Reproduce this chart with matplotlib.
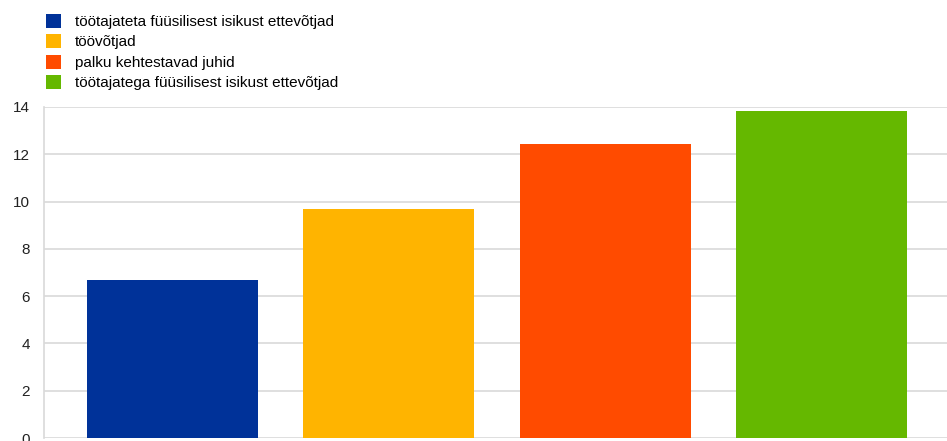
"""Bar chart: four employer / manager groups."""

import matplotlib
matplotlib.use('Agg')
import matplotlib.pyplot as plt

categories = [
    'töötajateta füüsilisest isikust ettevõtjad',
    'töövõtjad',
    'palku kehtestavad juhid',
    'töötajatega füüsilisest isikust ettevõtjad',
]
values = [6.68, 9.7, 12.45, 13.83]
colors = ['#003299', '#FFB400', '#FF4B00', '#65B800']
y_ticks = [0, 2, 4, 6, 8, 10, 12, 14]

plt.rcParams['font.family'] = ['Liberation Sans', 'DejaVu Sans']

fig = plt.figure(figsize=(9.47, 4.41), dpi=100)
ax = fig.add_axes([44 / 947, 3 / 441, 1 - 44 / 947, (438 - 107) / 441])

positions = list(range(len(values)))
bars = ax.bar(positions, values, width=0.79, color=colors, zorder=3)

ax.set_ylim(0, 14)
ax.set_xlim(-0.594, 3.58)
ax.set_yticks(y_ticks)
ax.set_xticks([])
ax.tick_params(axis='y', length=0, labelsize=11, pad=10, colors='#222222')
ax.grid(axis='y', color='#d9d9d9', linewidth=1.2, zorder=0)

for side in ['top', 'right', 'bottom']:
    ax.spines[side].set_visible(False)
ax.spines['left'].set_color('#d9d9d9')
ax.spines['left'].set_linewidth(1.2)

fig.legend(bars, categories, loc='upper left', bbox_to_anchor=(46 / 947, 1 - 14 / 441),
           frameon=False, fontsize=11, handlelength=1.0, handleheight=1.0,
           handletextpad=0.9, labelspacing=0.35, borderpad=0, borderaxespad=0)

plt.savefig('out.png', dpi=100)
